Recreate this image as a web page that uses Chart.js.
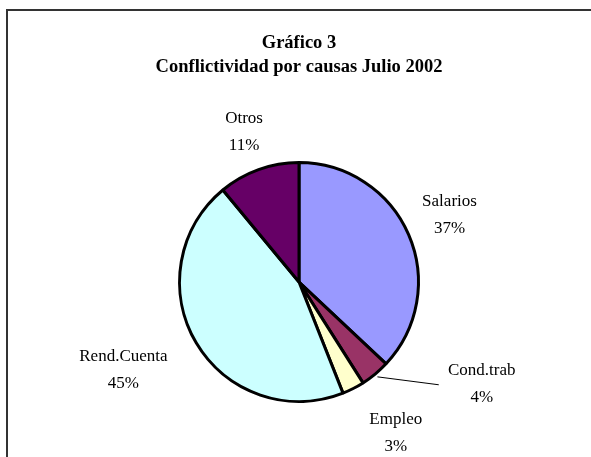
<!DOCTYPE html>
<html>
<head>
<meta charset="utf-8">
<script src="https://cdn.jsdelivr.net/npm/chart.js@4.4.0/dist/chart.umd.min.js"></script>
<style>
  html, body { margin: 0; padding: 0; background: #fff; }
  #wrap { width: 591px; height: 457px; }
</style>
</head>
<body>
<div id="wrap"><canvas id="myChart" width="591" height="457"></canvas></div>
<script>
// data
var categories = ['Salarios', 'Cond.trab', 'Empleo', 'Rend.Cuenta', 'Otros'];
var values = [37, 4, 3, 45, 11];
var sliceColors = ['#9999FF', '#993366', '#FFFFCC', '#CCFFFF', '#660066'];
var titleLines = ['Gráfico 3', 'Conflictividad por causas Julio 2002'];

// frame around the chart (left and top edge only are visible)
var framePlugin = {
    id: 'frame',
    beforeDraw: function(chart) {
        var ctx = chart.ctx;
        ctx.save();
        ctx.strokeStyle = '#333';
        ctx.lineWidth = 2;
        ctx.beginPath();
        ctx.moveTo(7, 460);
        ctx.lineTo(7, 10);
        ctx.lineTo(600, 10);
        ctx.stroke();
        ctx.restore();
    }
};

// category + percent labels beside each slice
var labelPlugin = {
    id: 'sliceLabels',
    afterDatasetsDraw: function(chart, args, opts) {
        var ctx = chart.ctx;
        var meta = chart.getDatasetMeta(0);
        var data = chart.data.datasets[0].data;
        var total = data.reduce(function(a, b) { return a + b; }, 0);
        ctx.save();
        ctx.fillStyle = '#000';
        ctx.font = opts.font;
        ctx.textAlign = 'center';
        ctx.textBaseline = 'middle';
        meta.data.forEach(function(arc, i) {
            var r = arc.outerRadius;
            var off = opts.offsets[i];
            var x = arc.x + off[0] * r;
            var y = arc.y + off[1] * r;
            var pct = Math.round(data[i] / total * 100) + '%';
            ctx.fillText(chart.data.labels[i], x, y - opts.gap / 2);
            ctx.fillText(pct, x, y + opts.gap / 2);
            if (opts.leaders[i]) {
                var mid = (arc.startAngle + arc.endAngle) / 2;
                var l = opts.leaders[i];
                ctx.strokeStyle = '#000';
                ctx.lineWidth = 1;
                ctx.beginPath();
                ctx.moveTo(arc.x + Math.cos(mid) * r * 1.03, arc.y + Math.sin(mid) * r * 1.03);
                ctx.lineTo(arc.x + l[0] * r, arc.y + l[1] * r);
                ctx.stroke();
            }
        });
        ctx.restore();
    }
};

var ctx = document.getElementById('myChart').getContext('2d');
window.myPie = new Chart(ctx, {
    type: 'pie',
    data: {
        labels: categories,
        datasets: [{
            data: values,
            backgroundColor: sliceColors,
            borderColor: '#000',
            borderWidth: 3
        }]
    },
    options: {
        responsive: false,
        animation: false,
        events: [],
        layout: {
            padding: { left: 7, right: 0, top: 0, bottom: 54 }
        },
        plugins: {
            legend: { display: false },
            tooltip: { enabled: false },
            title: {
                display: true,
                text: titleLines,
                color: '#000',
                font: { family: 'Liberation Serif', size: 18.5, weight: 'bold', lineHeight: 1.3 },
                padding: { top: 31, bottom: 82 }
            },
            sliceLabels: {
                font: '17px "Liberation Serif"',
                gap: 27,
                offsets: [[1.26, -0.56], [1.53, 0.85], [0.81, 1.26], [-1.47, 0.74], [-0.46, -1.26]],
                leaders: [null, [1.17, 0.86], null, null, null]
            }
        }
    },
    plugins: [framePlugin, labelPlugin]
});
</script>
</body>
</html>
